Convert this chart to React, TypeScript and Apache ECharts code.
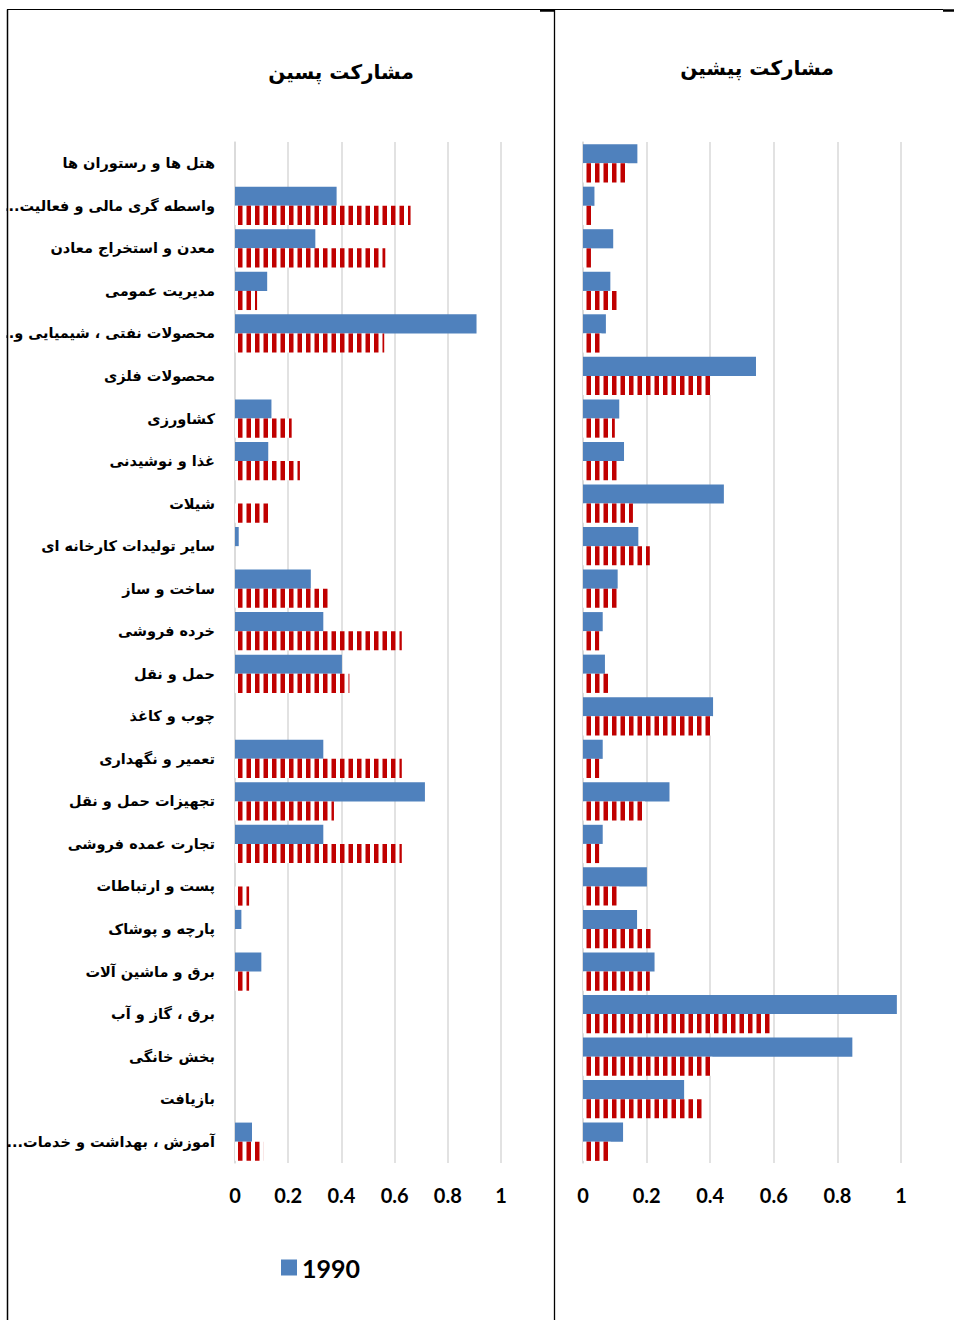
import React, { useEffect, useRef } from "react";
import * as echarts from "echarts";

const categories = [
  "هتل ها و رستوران ها",
  "واسطه گری مالی و فعالیت...",
  "معدن و استخراج معادن",
  "مدیریت عمومی",
  "محصولات نفتی ، شیمیایی و...",
  "محصولات فلزی",
  "کشاورزی",
  "غذا و نوشیدنی",
  "شیلات",
  "سایر تولیدات کارخانه ای",
  "ساخت و ساز",
  "خرده فروشی",
  "حمل و نقل",
  "چوب و کاغذ",
  "تعمیر و نگهداری",
  "تجهیزات حمل و نقل",
  "تجارت عمده فروشی",
  "پست و ارتباطات",
  "پارچه و پوشاک",
  "برق و ماشین آلات",
  "برق ، گاز و آب",
  "بخش خانگی",
  "بازیافت",
  "آموزش ، بهداشت و خدمات...",
];

const titleLate = "مشارکت پسین";
const titleEarly = "مشارکت پیشین";
const blueName = "1990";
const redName = "دوره دوم";

// مشارکت پسین (left panel)
const lateBlue = [null, 0.382, 0.302, 0.121, 0.908, null, 0.137, 0.125, null, 0.014, 0.285, 0.332, 0.402, null, 0.332, 0.714, 0.332, null, 0.024, 0.099, null, null, null, 0.064];
const lateRed = [null, 0.66, 0.565, 0.083, 0.561, null, 0.213, 0.244, 0.134, null, 0.35, 0.627, 0.43, null, 0.627, 0.372, 0.627, 0.053, null, 0.053, null, null, null, 0.106];

// مشارکت پیشین (right panel)
const earlyBlue = [0.171, 0.036, 0.095, 0.086, 0.072, 0.544, 0.114, 0.129, 0.443, 0.174, 0.109, 0.062, 0.069, 0.409, 0.062, 0.272, 0.062, 0.201, 0.17, 0.225, 0.987, 0.847, 0.318, 0.126];
const earlyRed = [0.14, 0.028, 0.025, 0.108, 0.058, 0.402, 0.1, 0.108, 0.157, 0.21, 0.114, 0.051, 0.079, 0.407, 0.051, 0.195, 0.051, 0.114, 0.221, 0.21, 0.595, 0.407, 0.375, 0.087];

const axisMin = 0;
const axisMax = 1;
const axisStep = 0.2;

const BLUE = "#4F81BD";
const RED = "#C00000";
const GRID = "#D9D9D9";
const FA_FONT = "'DejaVu Sans', 'Noto Sans', sans-serif";
const NUM_FONT = "Lato, 'Open Sans', sans-serif";

function makeStripe(): HTMLCanvasElement {
  const c = document.createElement("canvas");
  c.width = 17;
  c.height = 4;
  const ctx = c.getContext("2d")!;
  ctx.fillStyle = "#ffffff";
  ctx.fillRect(0, 0, 17, 4);
  ctx.fillStyle = RED;
  ctx.fillRect(0, 0, 4.5, 4);
  ctx.fillRect(8.5, 0, 4.5, 4);
  return c;
}

export default function App() {
  const ref = useRef<HTMLDivElement>(null);

  useEffect(() => {
    if (!ref.current) return;
    const chart = echarts.init(ref.current, undefined, { renderer: "svg" });
    const stripe = makeStripe();
    const pattern = (x: number): any => ({
      image: stripe,
      repeat: "repeat",
      imageWidth: 17,
      imageHeight: 4,
      x,
      y: 0,
    });

    const xAxisBase = (gridIndex: number) => ({
      type: "value",
      gridIndex,
      min: axisMin,
      max: axisMax,
      interval: axisStep,
      axisLine: { show: false },
      axisTick: { show: false },
      splitLine: { show: true, lineStyle: { color: GRID, width: 1.5 } },
      axisLabel: {
        color: "#000",
        fontFamily: NUM_FONT,
        fontWeight: "bold",
        fontSize: 20,
        margin: 22,
      },
    });

    const yAxisBase = (gridIndex: number, showLabel: boolean) => ({
      type: "category",
      gridIndex,
      inverse: true,
      data: categories,
      axisLine: { show: true, lineStyle: { color: GRID, width: 1.5 } },
      axisTick: { show: false },
      axisLabel: {
        show: showLabel,
        color: "#000",
        fontFamily: FA_FONT,
        fontWeight: "bold",
        fontSize: 14.5,
        margin: 20,
        formatter: (v: string) => v + "\u200F",
      },
    });

    const barCommon = {
      type: "bar",
      barGap: "0%",
      barCategoryGap: "10%",
    };

    chart.setOption({
      animation: false,
      backgroundColor: "#ffffff",
      grid: [
        { left: 235, right: 954 - 501, top: 142, bottom: 1320 - 1163, containLabel: false, outerBoundsMode: "none" },
        { left: 583, right: 954 - 901, top: 142, bottom: 1320 - 1163, containLabel: false, outerBoundsMode: "none" },
      ],
      xAxis: [xAxisBase(0), xAxisBase(1)],
      yAxis: [yAxisBase(0, true), yAxisBase(1, false)],
      legend: {
        data: [blueName],
        left: 281,
        top: 1255,
        padding: 0,
        icon: "rect",
        itemWidth: 16,
        itemHeight: 16,
        itemGap: 10,
        selectedMode: false,
        textStyle: { color: "#000", fontFamily: NUM_FONT, fontWeight: "bold", fontSize: 25 },
      },
      series: [
        { ...barCommon, name: blueName, xAxisIndex: 0, yAxisIndex: 0, data: lateBlue, itemStyle: { color: BLUE } },
        { ...barCommon, name: redName, xAxisIndex: 0, yAxisIndex: 0, data: lateRed, itemStyle: { color: pattern(235) } },
        { ...barCommon, name: blueName, xAxisIndex: 1, yAxisIndex: 1, data: earlyBlue, itemStyle: { color: BLUE } },
        { ...barCommon, name: redName, xAxisIndex: 1, yAxisIndex: 1, data: earlyRed, itemStyle: { color: pattern(583) } },
      ],
      graphic: [
        { type: "rect", z: 100, shape: { x: 0, y: 0, width: 6.5, height: 1320 }, style: { fill: "#ffffff" } },
        { type: "line", z: 101, shape: { x1: 7.5, y1: 9.5, x2: 7.5, y2: 1320 }, style: { stroke: "#000", lineWidth: 1.5 } },
        { type: "line", z: 101, shape: { x1: 7, y1: 9.5, x2: 554, y2: 9.5 }, style: { stroke: "#000", lineWidth: 1.2 } },
        { type: "line", z: 101, shape: { x1: 540, y1: 10.5, x2: 554, y2: 10.5 }, style: { stroke: "#000", lineWidth: 2.5 } },
        { type: "line", z: 101, shape: { x1: 554.5, y1: 10, x2: 554.5, y2: 1320 }, style: { stroke: "#000", lineWidth: 1.3 } },
        { type: "line", z: 101, shape: { x1: 554, y1: 9.5, x2: 943, y2: 9.5 }, style: { stroke: "#000", lineWidth: 1.2 } },
        { type: "line", z: 101, shape: { x1: 943, y1: 10.5, x2: 954, y2: 10.5 }, style: { stroke: "#000", lineWidth: 2.5 } },
        {
          type: "text",
          z: 101,
          x: 341,
          y: 72,
          style: { text: titleLate, textAlign: "center", textVerticalAlign: "middle", fill: "#000", font: `bold 20px ${FA_FONT}` },
        },
        {
          type: "text",
          z: 101,
          x: 757,
          y: 68,
          style: { text: titleEarly, textAlign: "center", textVerticalAlign: "middle", fill: "#000", font: `bold 20px ${FA_FONT}` },
        },
      ],
    });
    return () => chart.dispose();
  }, []);

  return (
    <div style={{ position: "absolute", left: 0, top: 0, width: 954, height: 1320, background: "#fff" }}>
      <div ref={ref} style={{ width: 954, height: 1320 }} />
    </div>
  );
}
